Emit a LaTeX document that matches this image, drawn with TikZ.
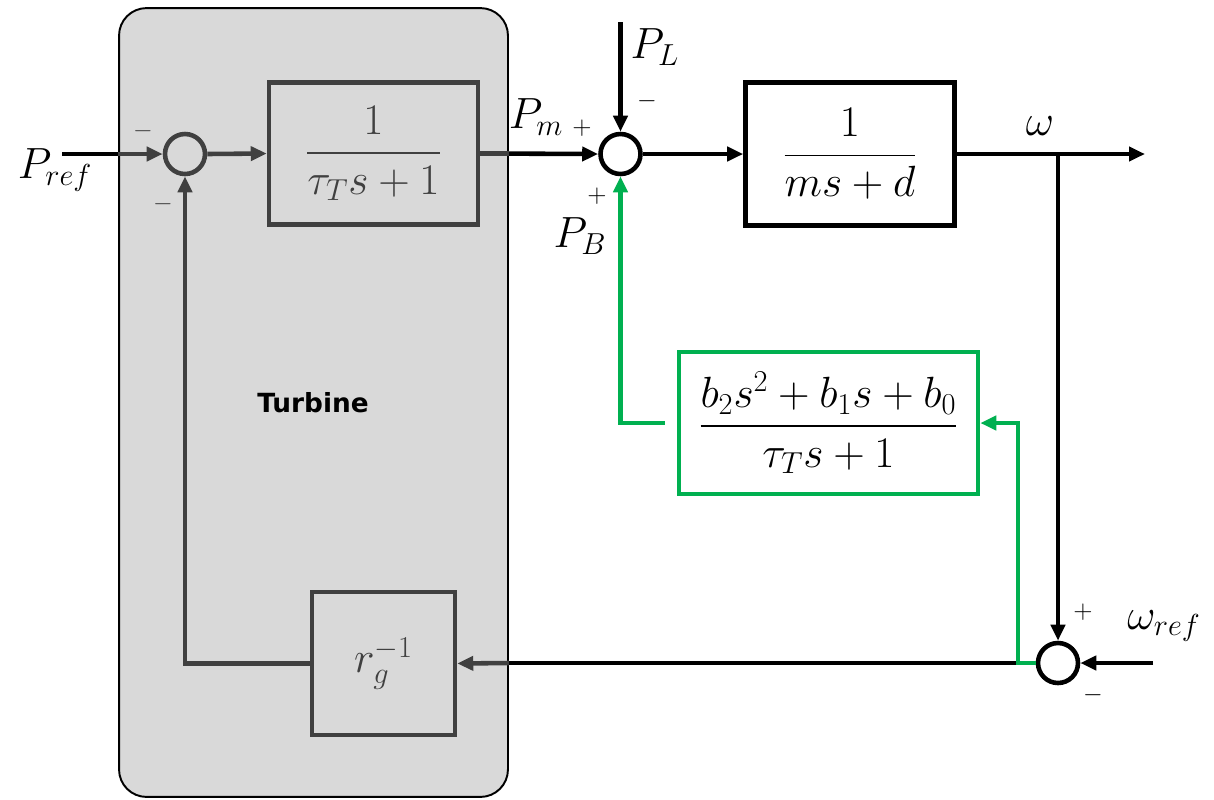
\documentclass[tikz,border=0pt]{standalone}
\usepackage{amsmath}
\usepackage{fontspec}
\newfontfamily\turbfont{DejaVu Sans}
\usetikzlibrary{arrows.meta,calc}
\definecolor{tgray}{HTML}{404040}
\definecolor{tfill}{HTML}{D9D9D9}
\definecolor{bgreen}{HTML}{00B050}
\begin{document}
\begin{tikzpicture}[x=0.02cm,y=-0.02cm,
  line width=2.6pt,
  arr/.style={-{Triangle[length=0.32cm,width=0.28cm]}},
  blk/.style={draw, rectangle, inner sep=0pt, font=\fontsize{24}{28}\selectfont},
  sumc/.style={draw, circle, minimum size=0.8cm, inner sep=0pt},
  lbl/.style={font=\fontsize{23}{27}\selectfont, inner sep=0pt},
  sgn/.style={font=\fontsize{14}{16}\selectfont, inner sep=0pt},
]
\useasboundingbox (0,0) rectangle (1214,799);
% turbine background
\node[draw=black, line width=1.1pt, fill=tfill, rounded corners=0.55cm,
      minimum width=7.78cm, minimum height=15.78cm, inner sep=0pt] (turb) at (313.5,402.5) {};
\node[font=\turbfont\bfseries\fontsize{15}{18}\selectfont, inner sep=0pt] (tlabel) at (313,403) {Turbine};

% nodes
\node[sumc, draw=tgray, fill=tfill] (s1) at (185,154) {};
\node[blk, draw=tgray, text=tgray, minimum width=4.18cm, minimum height=2.84cm] (b1) at (373.5,153.5) {$\dfrac{1}{\tau_T s+1}$};
\node[sumc, draw=black, fill=white] (s2) at (620.5,154) {};
\node[blk, draw=black, minimum width=4.18cm, minimum height=2.86cm] (b2) at (850,154) {$\dfrac{1}{ms+d}$};
\node[blk, draw=bgreen, minimum width=5.98cm, minimum height=2.84cm] (gb) at (828.5,423) {$\dfrac{b_2s^2+b_1s+b_0}{\tau_T s+1}$};
\node[sumc, draw=black, fill=white] (s3) at (1058,663) {};
\node[blk, draw=tgray, text=tgray, minimum width=2.86cm, minimum height=2.86cm] (rg) at (383.5,663.5) {$r_g^{-1}$};

\coordinate (pref) at (62,154);
\coordinate (pl) at (620.5,22);
\coordinate (wout) at (1145,154);
\coordinate (br) at (1058,154);
\coordinate (wref) at (1153,663);
\coordinate (gj) at (1018,663);

% connectors
\draw[arr, tgray] (pref) -- (s1.west);
\draw[black] (pref) -- (turb.west |- pref);
\draw[arr, tgray] (s1.east) -- (b1.west);
\draw[arr] (b1.east) -- (s2.west);
\draw[tgray] (b1.east) -- (turb.east |- b1.east);
\draw[arr] (pl) -- (s2.north);
\draw[arr] (s2.east) -- (b2.west);
\draw[arr] (b2.east) -- (wout);
\draw[arr] (br) -- (s3.north);
\draw[arr] (wref) -- (s3.east);
\draw (gj) -- (turb.east |- gj);
\draw[arr, tgray] (turb.east |- gj) -- (rg.east);
\draw[arr, tgray] (rg.west) -| (s1.south);
\draw[arr, bgreen] (s3.west) -- (gj) -- (gj |- gb.east) -- (gb.east);
\draw[arr, bgreen] ([xshift=-0.24cm]gb.west) -| (s2.south);

% labels
\node[lbl] (lpref) at (55,170) {$P_{ref}$};
\node[lbl] (lpl) at (655,47) {$P_L$};
\node[lbl] (lpm) at (536,117) {$P_m$};
\node[lbl] (lpb) at (580,236) {$P_B$};
\node[lbl] (lw) at (1040,126) {$\omega$};
\node[lbl] (lwref) at (1164,626) {$\omega_{ref}$};
\node[sgn] (sg1) at (582,128) {$+$};
\node[sgn] (sg2) at (597,196) {$+$};
\node[sgn] (sg3) at (647,101) {$-$};
\node[sgn] (sg4) at (1083,612) {$+$};
\node[sgn] (sg5) at (1093,695) {$-$};
\node[sgn, text=tgray] (sg6) at (143,131) {$-$};
\node[sgn, text=tgray] (sg7) at (163,204) {$-$};
\end{tikzpicture}
\end{document}
